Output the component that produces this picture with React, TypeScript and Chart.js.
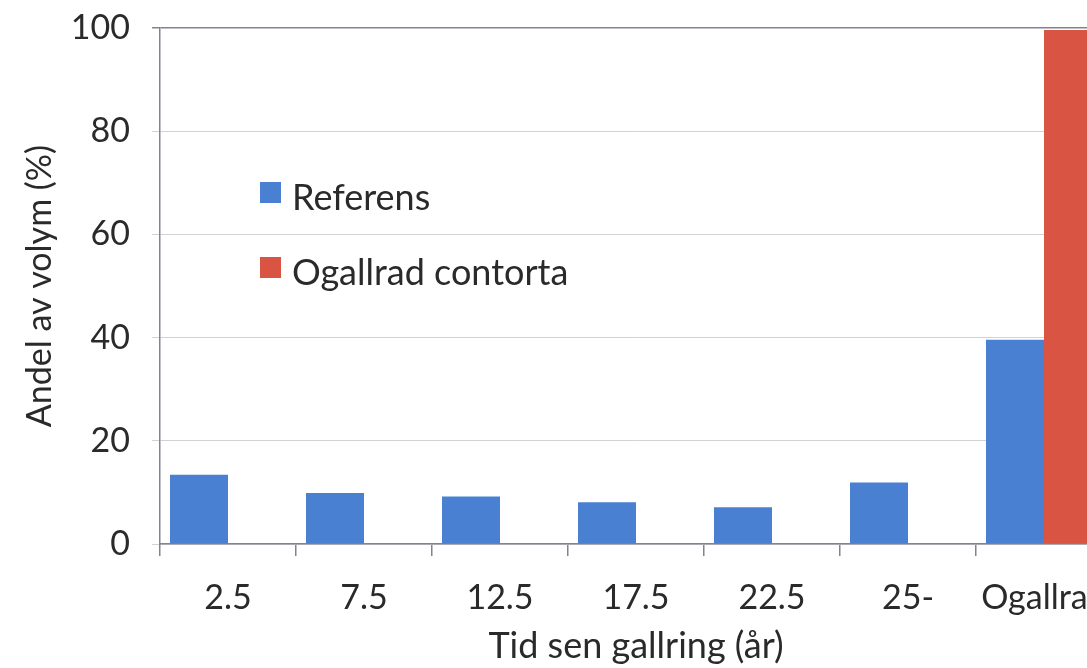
import React, { useEffect, useRef } from "react";
import { Chart, registerables } from "chart.js";

Chart.register(...registerables);

const categories = ["2.5", "7.5", "12.5", "17.5", "22.5", "25-", "Ogallrad"];
const referensValues: (number | null)[] = [13.4, 9.9, 9.2, 8.1, 7.1, 11.9, 39.6];
const ogallradValues: (number | null)[] = [null, null, null, null, null, null, 99.6];
const seriesNames = ["Referens", "Ogallrad contorta"];
const yTickValues = [0, 20, 40, 60, 80, 100];
const xAxisTitle = "Tid sen gallring (år)";
const yAxisTitle = "Andel av volym (%)";

const BLUE = "#4a80d2";
const RED = "#da5443";
const TEXT = "#2a2a2a";
const AXIS = "#80848f";
const GRID = "#d2d2d2";
const FONT = "Lato";
const FS = 34;
const FS_BIG = 36;

const insideLegend = {
  id: "insideLegend",
  afterDraw(chart: any) {
    const { ctx, chartArea } = chart;
    ctx.save();
    chart.data.datasets.forEach((ds: any, i: number) => {
      const bx = chartArea.left + 100;
      const by = chartArea.top + 154 + i * 75;
      ctx.fillStyle = ds.backgroundColor;
      ctx.fillRect(bx, by, 21, 21);
      ctx.fillStyle = TEXT;
      ctx.font = `${FS_BIG}px ${FONT}`;
      ctx.textBaseline = "alphabetic";
      ctx.textAlign = "left";
      ctx.fillText(ds.label, bx + 32, by + 28);
    });
    ctx.restore();
  },
};

export default function App() {
  const ref = useRef<HTMLCanvasElement | null>(null);

  useEffect(() => {
    if (!ref.current) return;
    const chart = new Chart(ref.current, {
      type: "bar",
      data: {
        labels: categories,
        datasets: [
          {
            label: seriesNames[0],
            data: referensValues,
            backgroundColor: BLUE,
            borderWidth: 0,
          },
          {
            label: seriesNames[1],
            data: ogallradValues,
            backgroundColor: RED,
            borderWidth: 0,
          },
        ],
      },
      options: {
        responsive: false,
        animation: false,
        devicePixelRatio: 1,
        layout: { padding: { top: 28, right: 28, left: 0, bottom: 0 } },
        datasets: {
          bar: { categoryPercentage: 0.853, barPercentage: 1.0 },
        },
        plugins: {
          legend: { display: false },
          tooltip: { enabled: false },
        },
        scales: {
          x: {
            offset: true,
            grid: {
              offset: true,
              drawOnChartArea: false,
              drawTicks: true,
              tickLength: 12,
              color: AXIS,
              lineWidth: 1.5,
            },
            border: { display: true, color: AXIS, width: 1.5 },
            ticks: {
              color: TEXT,
              font: { family: FONT, size: FS },
              padding: 22,
              maxRotation: 0,
              autoSkip: false,
            },
            title: {
              display: true,
              text: xAxisTitle,
              color: TEXT,
              font: { family: FONT, size: FS_BIG },
              padding: { top: 0, bottom: 0 },
            },
            afterFit(scale: any) {
              scale.height = 124;
              scale.paddingLeft = 0;
              scale.paddingRight = 0;
            },
          },
          y: {
            min: 0,
            max: 100,
            afterBuildTicks(scale: any) {
              scale.ticks = yTickValues.map((v) => ({ value: v }));
            },
            grid: {
              drawTicks: true,
              tickLength: 8,
              color: (c: any) => (c.tick && c.tick.value === 100 ? AXIS : GRID),
              lineWidth: (c: any) => (c.tick && c.tick.value === 100 ? 1.5 : 1),
            },
            border: { display: true, color: AXIS, width: 1.5 },
            ticks: {
              color: TEXT,
              font: { family: FONT, size: FS },
              padding: 22,
            },
            title: {
              display: true,
              text: yAxisTitle,
              color: TEXT,
              font: { family: FONT, size: FS },
              padding: { top: 20, bottom: 0 },
            },
            afterFit(scale: any) {
              scale.width = 160;
              scale.paddingTop = 0;
              scale.paddingBottom = 0;
            },
          },
        },
      },
      plugins: [insideLegend],
    });
    return () => chart.destroy();
  }, []);

  return (
    <div
      style={{
        position: "fixed",
        left: 0,
        top: 0,
        width: 1087,
        height: 668,
        overflow: "hidden",
        background: "#ffffff",
      }}
    >
      <canvas ref={ref} width={1140} height={668} style={{ width: 1140, height: 668, display: "block" }} />
    </div>
  );
}
